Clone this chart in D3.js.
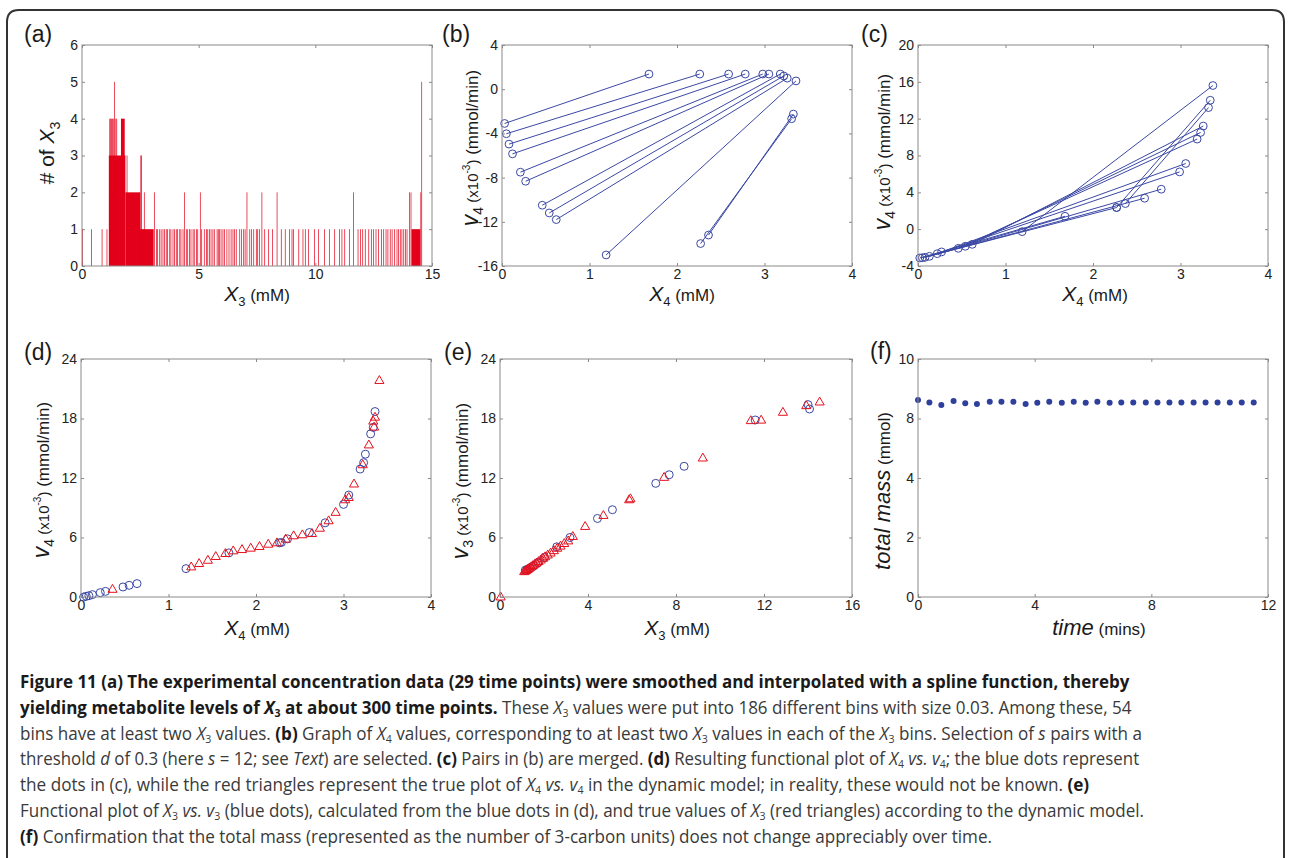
<!DOCTYPE html>
<html lang="en">
<head>
<meta charset="UTF-8">
<title>Figure 11</title>
<style>
    body { margin: 0; background: #fff; }
    svg { display: block; font-family: "Liberation Sans", Arial, sans-serif; }
    text { white-space: pre; }
</style>
</head>
<body>
<svg id="fig" width="1289" height="858"></svg>
<script src="https://d3js.org/d3.v7.min.js"></script>
<script>
    // ---- (a) histogram of X3 values ----
    // solid runs of adjacent bins: start, end (mM), count
    const blockLo = [1.15, 1.67, 1.86, 2.45, 14.12];
    const blockHi = [1.86, 1.83, 2.50, 3.07, 14.50];
    const blockN  = [3, 4, 2, 1, 1];
    // single bins (bin centre, count)
    const binX = [0.02, 0.40, 0.86, 1.07, 1.19, 1.23, 1.27, 1.31, 1.36, 1.40, 1.45, 1.49, 1.93, 2.52, 2.55, 2.67,
        3.10, 3.19, 3.24, 3.33, 3.39, 3.47, 3.53, 3.61, 3.67, 3.76, 3.81, 3.90, 3.96, 4.04, 4.10, 4.19, 4.24, 4.33,
        4.40, 4.47, 4.53, 4.61, 4.67, 4.76, 4.81, 4.90, 4.96, 5.07, 5.13, 5.24, 5.33, 5.39, 5.47, 5.53, 5.61, 5.67,
        5.79, 5.84, 5.90, 5.96, 6.04, 6.10, 6.21, 6.30, 6.39, 6.47, 6.53, 6.61, 6.76, 6.84, 6.93, 6.99, 7.07, 7.19,
        7.27, 7.36, 7.47, 7.53, 7.61, 7.71, 7.83, 8.00, 8.17, 8.36, 8.54, 8.71, 8.90, 9.00, 9.07, 9.29, 9.47, 9.57,
        9.71, 9.97, 10.14, 10.39, 10.60, 10.83, 11.04, 11.14, 11.26, 11.47, 11.64, 11.83, 11.93, 12.03, 12.14, 12.29,
        12.40, 12.50, 12.60, 12.71, 12.83, 12.93, 13.03, 13.11, 13.21, 13.29, 13.40, 13.50, 13.57, 13.64, 13.71, 13.79,
        13.86, 13.93, 14.04, 14.10, 14.52, 14.56];
    const binN = [1, 1, 1, 1, 4, 4, 4, 4, 4, 5, 4, 4, 3, 3, 3, 2,
        2, 1, 1, 1, 1, 1, 1, 1, 1, 1, 1, 1, 1, 1, 1, 1, 1, 1,
        2, 1, 1, 1, 1, 1, 1, 1, 1, 2, 1, 1, 1, 1, 1, 1, 1, 1,
        1, 1, 1, 1, 1, 1, 1, 1, 1, 1, 1, 1, 1, 1, 1, 1, 2, 1,
        1, 1, 1, 1, 1, 2, 1, 1, 1, 2, 1, 1, 1, 1, 1, 1, 1, 1,
        1, 1, 1, 1, 1, 1, 1, 1, 1, 1, 2, 1, 1, 1, 1, 1,
        1, 1, 1, 1, 1, 1, 1, 1, 1, 1, 1, 1, 1, 1, 1, 1,
        1, 1, 2, 2, 2, 5];

    // ---- (b) selected pairs (X4, v4) ----
    const bLeftX  = [0.03, 0.05, 0.08, 0.12, 0.21, 0.27, 0.46, 0.54, 0.62, 1.19, 2.27, 2.36];
    const bLeftY  = [-3.10, -4.03, -4.97, -5.85, -7.51, -8.33, -10.5, -11.2, -11.8, -15.0, -13.97, -13.2];
    const bRightX = [1.68, 2.26, 2.59, 2.78, 2.98, 3.05, 3.18, 3.22, 3.26, 3.36, 3.31, 3.33];
    const bRightY = [1.37, 1.37, 1.37, 1.37, 1.37, 1.37, 1.37, 1.20, 1.00, 0.75, -2.67, -2.25];

    // ---- (c) merged pairs ----
    const cLeftX  = [0.02, 0.05, 0.08, 0.13, 0.22, 0.27, 0.46, 0.54, 0.62, 1.19, 2.27, 2.37];
    const cLeftY  = [-3.13, -3.10, -3.06, -2.95, -2.66, -2.47, -2.08, -1.86, -1.65, -0.27, 2.35, 2.78];
    const cRightX = [1.68, 2.27, 2.59, 2.78, 2.99, 3.06, 3.19, 3.23, 3.26, 3.37, 3.34, 3.32];
    const cRightY = [1.40, 2.35, 3.36, 4.34, 6.22, 7.13, 9.78, 10.5, 11.2, 15.6, 14.0, 13.2];

    // ---- (d) X4 vs v4 ----
    const dCircX = [0.03, 0.06, 0.09, 0.13, 0.22, 0.28, 0.48, 0.55, 0.64, 1.20, 1.69, 2.27, 2.29, 2.36, 2.61, 2.79,
        3.00, 3.06, 3.19, 3.23, 3.25, 3.31, 3.34, 3.36];
    const dCircY = [0.00, 0.07, 0.13, 0.24, 0.44, 0.57, 1.01, 1.18, 1.35, 2.86, 4.45, 5.46, 5.50, 5.86, 6.50, 7.48,
        9.34, 10.28, 12.90, 13.55, 14.40, 16.45, 17.10, 18.70];
    const dTriX = [0.36, 1.26, 1.35, 1.45, 1.54, 1.65, 1.74, 1.84, 1.94, 2.04, 2.14, 2.24, 2.34, 2.43, 2.53, 2.64,
        2.73, 2.83, 2.91, 3.02, 3.06, 3.12, 3.22, 3.29, 3.34, 3.35, 3.36, 3.41];
    const dTriY = [0.84, 3.10, 3.44, 3.77, 4.15, 4.45, 4.72, 4.85, 4.99, 5.16, 5.39, 5.53, 5.90, 6.24, 6.34, 6.47,
        7.00, 7.75, 8.60, 9.87, 10.10, 11.46, 13.40, 15.40, 17.80, 17.20, 18.20, 21.90];

    // ---- (e) X3 vs v3 ----
    const eCircX = [1.15, 1.22, 1.36, 1.52, 1.72, 2.02, 2.58, 3.18, 4.43, 5.11, 7.08, 7.69, 8.37, 11.60, 14.00, 14.07];
    const eCircY = [2.70, 2.78, 2.93, 3.10, 3.45, 4.00, 5.06, 6.00, 7.92, 8.80, 11.46, 12.33, 13.18, 17.85, 19.40, 18.96];
    const eTriX = [0.03, 1.10, 1.15, 1.20, 1.25, 1.30, 1.35, 1.42, 1.50, 1.58, 1.66, 1.75, 1.85, 1.95, 2.05, 2.17,
        2.30, 2.45, 2.60, 2.75, 2.92, 3.10, 3.31, 3.87, 4.70, 5.87, 5.93, 7.46, 9.22, 11.40, 11.87, 12.86, 13.92, 14.53];
    const eTriY = [0.07, 2.62, 2.68, 2.76, 2.84, 2.92, 3.00, 3.12, 3.24, 3.37, 3.50, 3.64, 3.80, 3.96, 4.12, 4.30,
        4.50, 4.74, 4.98, 5.20, 5.46, 5.72, 6.17, 7.18, 8.29, 9.87, 9.97, 12.13, 14.08, 17.85, 17.90, 18.69, 19.36, 19.73];

    // ---- (f) total mass over time ----
    const fTime = [0, 0.39, 0.80, 1.22, 1.62, 2.02, 2.46, 2.86, 3.27, 3.69, 4.09, 4.50, 4.93, 5.34, 5.75, 6.15,
        6.57, 6.97, 7.38, 7.81, 8.21, 8.62, 9.03, 9.45, 9.86, 10.27, 10.69, 11.10, 11.51];
    const fMass = [8.62, 8.54, 8.45, 8.59, 8.51, 8.49, 8.56, 8.56, 8.56, 8.49, 8.53, 8.56, 8.53, 8.56, 8.53, 8.56,
        8.53, 8.54, 8.54, 8.54, 8.54, 8.54, 8.54, 8.54, 8.54, 8.54, 8.54, 8.54, 8.54];

    // tick values / labels
    const ticksA = { x: [0, 5, 10, 15], y: [0, 1, 2, 3, 4, 5, 6] };
    const ticksB = { x: [0, 1, 2, 3, 4], y: [-16, -12, -8, -4, 0, 4] };
    const ticksC = { x: [0, 1, 2, 3, 4], y: [-4, 0, 4, 8, 12, 16, 20] };
    const ticksD = { x: [0, 1, 2, 3, 4], y: [0, 6, 12, 18, 24] };
    const ticksE = { x: [0, 4, 8, 12, 16], y: [0, 6, 12, 18, 24] };
    const ticksF = { x: [0, 4, 8, 12], y: [0, 2, 4, 8, 10] };   // labels as printed on the figure

    const blue = "#3a48a4", red = "#e5101c", histRed = "#e2001a", axisGrey = "#8a8a8a";
    const svg = d3.select("#fig");

    // figure frame
    svg.append("path")
        .attr("d", "M7,858 V22 Q7,10 19,10 H1272 Q1284,10 1284,22 V858")
        .attr("fill", "none").attr("stroke", "#333").attr("stroke-width", 2);

    // text with italic / sub / superscript pieces
    function rich(text, segs, fs, subShift = 0.28) {
        let shift = 0;
        segs.forEach(([t, st, sz]) => {
            const target = st.includes("s") ? fs * subShift : st.includes("u") ? -fs * 0.42 : 0;
            const size = sz || ((st.includes("s") || st.includes("u")) ? fs * 0.62 : fs);
            text.append("tspan")
                .attr("dy", target - shift)
                .style("font-size", size + "px")
                .style("font-weight", st.includes("b") ? 700 : null)
                .style("font-style", st.includes("i") ? "italic" : null)
                .text(t);
            shift = target;
        });
        return text;
    }

    function label(x, y, rotate, segs, fs) {
        const t = svg.append("text")
            .attr("transform", `translate(${x},${y})` + (rotate ? " rotate(-90)" : ""))
            .attr("text-anchor", "middle")
            .attr("fill", "#1a1a1a");
        return rich(t, segs, fs);
    }

    function panel(box, xDom, yDom, ticks) {
        const x = d3.scaleLinear().domain(xDom).range([box.l, box.r]);
        const step = (box.b - box.t) / (yDom.length - 1);
        const y = d3.scaleLinear().domain(yDom).range(yDom.map((d, i) => box.b - i * step));
        const g = svg.append("g");
        const fmt = d => String(d);
        g.append("g").attr("transform", `translate(0,${box.b})`)
            .call(d3.axisBottom(x).tickValues(ticks.x).tickSize(-3).tickSizeOuter(0).tickPadding(3).tickFormat(fmt));
        g.append("g").attr("transform", `translate(0,${box.t})`)
            .call(d3.axisTop(x).tickValues(ticks.x).tickSize(-3).tickSizeOuter(0).tickFormat(""));
        g.append("g").attr("transform", `translate(${box.l},0)`)
            .call(d3.axisLeft(y).tickValues(ticks.y).tickSize(-3).tickSizeOuter(0).tickPadding(4).tickFormat(fmt));
        g.append("g").attr("transform", `translate(${box.r},0)`)
            .call(d3.axisRight(y).tickValues(ticks.y).tickSize(-3).tickSizeOuter(0).tickFormat(""));
        g.selectAll(".domain").remove();
        g.selectAll(".tick line").attr("stroke", axisGrey);
        g.selectAll(".tick text").attr("fill", "#222")
            .style("font-size", "14px").style("font-family", '"Liberation Sans", Arial, sans-serif');
        const plot = svg.append("g");
        // frame drawn last so it sits on top of the marks
        const frame = () => svg.append("rect")
            .attr("x", box.l).attr("y", box.t)
            .attr("width", box.r - box.l).attr("height", box.b - box.t)
            .attr("fill", "none").attr("stroke", axisGrey).attr("stroke-width", 1);
        return { plot, x, y, frame };
    }

    function panelLetter(x, y, s) {
        svg.append("text").attr("x", x).attr("y", y)
            .style("font-size", "23px").attr("fill", "#1a1a1a").text(s);
    }

    const tri = d3.symbol().type(d3.symbolTriangle).size(36);
    const xLab = n => [["X", "i", 21], [n, "s", 13], [" (mM)", "", 17]];

    // ===== (a) =====
    {
        const p = panel({ l: 82, r: 432, t: 45, b: 266 }, [0, 15], [0, 6], ticksA);
        p.plot.selectAll("rect.blk").data(blockLo).join("rect")
            .attr("x", (d, i) => p.x(d))
            .attr("width", (d, i) => p.x(blockHi[i]) - p.x(d))
            .attr("y", (d, i) => p.y(blockN[i]))
            .attr("height", (d, i) => p.y(0) - p.y(blockN[i]))
            .attr("fill", histRed);
        p.plot.selectAll("rect.bin").data(binX).join("rect")
            .attr("x", d => p.x(d - 0.015))
            .attr("width", p.x(0.03) - p.x(0))
            .attr("y", (d, i) => p.y(binN[i]))
            .attr("height", (d, i) => p.y(0) - p.y(binN[i]))
            .attr("fill", histRed);
        p.frame();
        panelLetter(24, 42, "(a)");
        label(257, 301, false, xLab("3"), 18);
        label(54, 153, true, [["# of ", "", 21], ["X", "i", 21], ["3", "s", 14]], 21);
    }

    // pair panels (b) and (c)
    function pairPanel(box, yDom, ticks, lx, ly, rx, ry) {
        const p = panel(box, [0, 4], yDom, ticks);
        p.plot.selectAll("line").data(lx).join("line")
            .attr("x1", (d, i) => p.x(d)).attr("y1", (d, i) => p.y(ly[i]))
            .attr("x2", (d, i) => p.x(rx[i])).attr("y2", (d, i) => p.y(ry[i]))
            .attr("stroke", blue).attr("stroke-width", 1);
        const ends = lx.map((d, i) => [d, ly[i]]).concat(rx.map((d, i) => [d, ry[i]]));
        p.plot.selectAll("circle").data(ends).join("circle")
            .attr("cx", d => p.x(d[0])).attr("cy", d => p.y(d[1])).attr("r", 3.9)
            .attr("fill", "none").attr("stroke", blue).attr("stroke-width", 1);
        p.frame();
        return p;
    }

    const vLab = n => [["v", "i", 23], [n, "s", 14], [" (x10", "", 15], ["-3", "u", 10], [")", "", 15], [" (mmol/min)", "", 17]];

    // ===== (b) =====
    pairPanel({ l: 502, r: 852, t: 45, b: 266 }, [-16, 4], ticksB, bLeftX, bLeftY, bRightX, bRightY);
    panelLetter(442, 42, "(b)");
    label(682, 301, false, xLab("4"), 18);
    label(478, 148, true, vLab("4"), 19);

    // ===== (c) =====
    pairPanel({ l: 918, r: 1268, t: 45, b: 266 }, [-4, 20], ticksC, cLeftX, cLeftY, cRightX, cRightY);
    panelLetter(861, 42, "(c)");
    label(1095, 301, false, xLab("4"), 18);
    label(890, 152, true, vLab("4"), 19);

    // scatter panels (d) and (e)
    function scatterPanel(box, xDom, ticks, cx, cy, tx, ty) {
        const p = panel(box, xDom, [0, 24], ticks);
        p.plot.selectAll("circle").data(cx).join("circle")
            .attr("cx", d => p.x(d)).attr("cy", (d, i) => p.y(cy[i])).attr("r", 4)
            .attr("fill", "none").attr("stroke", blue).attr("stroke-width", 1);
        p.plot.selectAll("path").data(tx).join("path")
            .attr("d", tri)
            .attr("transform", (d, i) => `translate(${p.x(d)},${p.y(ty[i]) + 1})`)
            .attr("fill", "none").attr("stroke", red).attr("stroke-width", 1);
        p.frame();
        return p;
    }

    // ===== (d) =====
    scatterPanel({ l: 81, r: 431, t: 359, b: 597 }, [0, 4], ticksD, dCircX, dCircY, dTriX, dTriY);
    panelLetter(24, 360, "(d)");
    label(257, 635, false, xLab("4"), 18);
    label(49, 480, true, vLab("4"), 19);

    // ===== (e) =====
    scatterPanel({ l: 500, r: 852, t: 359, b: 597 }, [0, 16], ticksE, eCircX, eCircY, eTriX, eTriY);
    panelLetter(444, 360, "(e)");
    label(677, 635, false, xLab("3"), 18);
    label(468, 481, true, vLab("3"), 19);

    // ===== (f) =====
    {
        const p = panel({ l: 918, r: 1268, t: 359, b: 597 }, [0, 12], ticksF.y, ticksF);
        p.plot.selectAll("circle").data(fTime).join("circle")
            .attr("cx", d => p.x(d)).attr("cy", (d, i) => p.y(fMass[i])).attr("r", 3)
            .attr("fill", "#2f3f9c");
        p.frame();
        panelLetter(870, 359, "(f)");
        label(1099, 635, false, [["time", "i", 22], [" (mins)", "", 17]], 19);
        label(890, 491, true, [["total mass", "i", 22], [" (mmol)", "", 17]], 19);
    }

    // ===== caption =====
    const capLines = [
        [["Figure 11 (a) The experimental concentration data (29 time points) were smoothed and interpolated with a spline function, thereby", "b"]],
        [["yielding metabolite levels of ", "b"], ["X", "bi"], ["3", "bs"], [" at about 300 time points.", "b"], [" These ", ""], ["X", "i"], ["3", "s"], [" values were put into 186 different bins with size 0.03. Among these, 54", ""]],
        [["bins have at least two ", ""], ["X", "i"], ["3", "s"], [" values. ", ""], ["(b)", "b"], [" Graph of ", ""], ["X", "i"], ["4", "s"], [" values, corresponding to at least two ", ""], ["X", "i"], ["3", "s"], [" values in each of the ", ""], ["X", "i"], ["3", "s"], [" bins. Selection of ", ""], ["s", "i"], [" pairs with a", ""]],
        [["threshold ", ""], ["d", "i"], [" of 0.3 (here ", ""], ["s", "i"], [" = 12; see ", ""], ["Text", "i"], [") are selected. ", ""], ["(c)", "b"], [" Pairs in (b) are merged. ", ""], ["(d)", "b"], [" Resulting functional plot of ", ""], ["X", "i"], ["4", "s"], [" vs. v", "i"], ["4", "s"], ["; the blue dots represent", ""]],
        [["the dots in (c), while the red triangles represent the true plot of ", ""], ["X", "i"], ["4", "s"], [" vs. v", "i"], ["4", "s"], [" in the dynamic model; in reality, these would not be known. ", ""], ["(e)", "b"]],
        [["Functional plot of ", ""], ["X", "i"], ["3", "s"], [" vs. v", "i"], ["3", "s"], [" (blue dots), calculated from the blue dots in (d), and true values of ", ""], ["X", "i"], ["3", "s"], [" (red triangles) according to the dynamic model.", ""]],
        [["(f)", "b"], [" Confirmation that the total mass (represented as the number of 3-carbon units) does not change appreciably over time.", ""]]
    ];
    const capBase = [688, 714, 740, 765, 791, 817, 843];
    const capWidth = [1110, 1112, 1123, 1120, 1070, 1125, 973];

    capLines.forEach((segs, i) => {
        const t = svg.append("text")
            .style("font-family", '"Open Sans", "Noto Sans", sans-serif')
            .attr("fill", "#3a3a3a");
        rich(t, segs, 17.5, 0.16);
        t.selectAll("tspan").filter(function () { return this.style.fontWeight === "700"; }).attr("fill", "#1a1a1a");
        const w = t.node().getComputedTextLength();
        t.attr("transform", `translate(20,${capBase[i]}) scale(${capWidth[i] / w},1)`);
    });
</script>
</body>
</html>
